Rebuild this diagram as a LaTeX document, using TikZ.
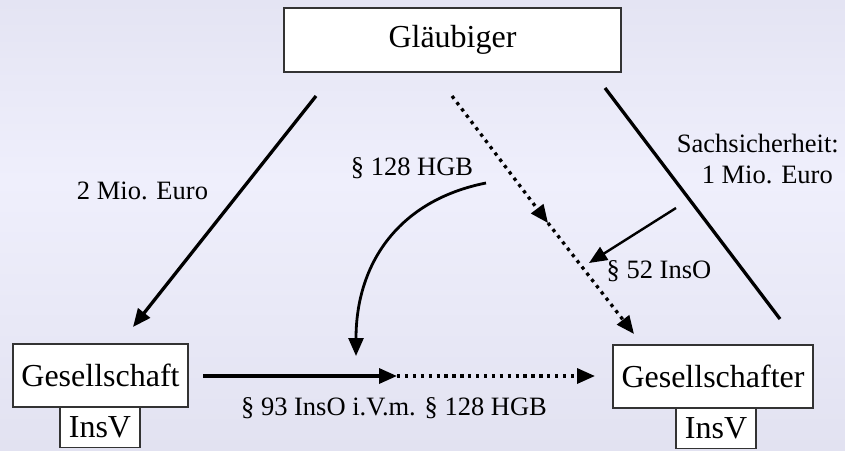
\documentclass[tikz,border=0pt]{standalone}
\usepackage{fontspec}
\setmainfont{Liberation Serif}
\usetikzlibrary{arrows.meta}
\definecolor{bgtop}{HTML}{E4E4F3}
\definecolor{bgmid}{HTML}{EFEFFC}
\definecolor{bgbot}{HTML}{E2E2F1}
\definecolor{boxline}{HTML}{333333}
\begin{document}
\begin{tikzpicture}[x=1pt,y=-1pt,
  box/.style={draw=boxline, line width=1.2pt, fill=white, inner sep=0pt, font=\fontsize{32}{38}\selectfont},
  lbl/.style={font=\fontsize{26.5}{31}\selectfont, inner sep=0pt, anchor=base},
  tipped/.style={-{Triangle[length=18pt,width=15pt]}},
  solidln/.style={line width=3.3pt},
  thinln/.style={line width=2.4pt},
  dotln/.style={line width=3.3pt, dash pattern=on 3.3pt off 4.6pt}
]
\useasboundingbox (0,0) rectangle (845,450);
\shade[top color=bgtop, bottom color=bgmid] (0,0) rectangle (845,181);
\shade[top color=bgmid, bottom color=bgbot] (0,180) rectangle (845,450);

% boxes
\node[box, minimum width=337pt, minimum height=64pt] (gl) at (452.5,40) {Gläubiger};
\node[box, minimum width=175pt, minimum height=63pt] (gs) at (100.5,375.5) {Gesellschaft};
\node[box, minimum width=80pt, minimum height=40pt, anchor=north] (insv1) at (100,407) {InsV};
\node[box, minimum width=200pt, minimum height=63pt] (gt) at (713,376.5) {Gesellschafter};
\node[box, minimum width=80pt, minimum height=40pt, anchor=north] (insv2) at (716,408) {InsV};

% connector end points
\coordinate (a1) at (316,96);
\coordinate (a2) at (133,327);
\coordinate (d1) at (452,96);
\coordinate (dm) at (548,223);
\coordinate (d2) at (634,334);
\coordinate (r1) at (605,88);
\coordinate (r2) at (780,319);
\coordinate (s1) at (676,208);
\coordinate (s2) at (589,263);
\coordinate (c1) at (486,183);
\coordinate (c2) at (356,356);
\coordinate (h1) at (203,376);
\coordinate (hm) at (397,376);
\coordinate (h2) at (595,376);

% connectors
\draw[solidln, tipped] (a1) -- (a2);
\draw[dotln, tipped] (d1) -- (dm);
\draw[dotln, tipped] (dm) -- (d2);
\draw[solidln] (r1) -- (r2);
\draw[thinln, tipped] (s1) -- (s2);
\draw[line width=2.8pt, tipped] (c1) .. controls (400,200) and (356,262) .. (c2);
\draw[solidln, tipped] (h1) -- (hm);
\draw[dotln, tipped] (hm) -- (h2);

% labels
\node[lbl] (l1) at (142.5,199) {2 Mio. Euro};
\node[lbl] (l2) at (412,175) {§ 128 HGB};
\node[lbl, anchor=base east] (l3) at (839,152) {Sachsicherheit:};
\node[lbl, anchor=base east] (l4) at (833,183) {1 Mio. Euro};
\node[lbl] (l5) at (659,278) {§ 52 InsO};
\node[lbl] (l6) at (394,415) {§ 93 InsO i.V.m. § 128 HGB};
\end{tikzpicture}
\end{document}
